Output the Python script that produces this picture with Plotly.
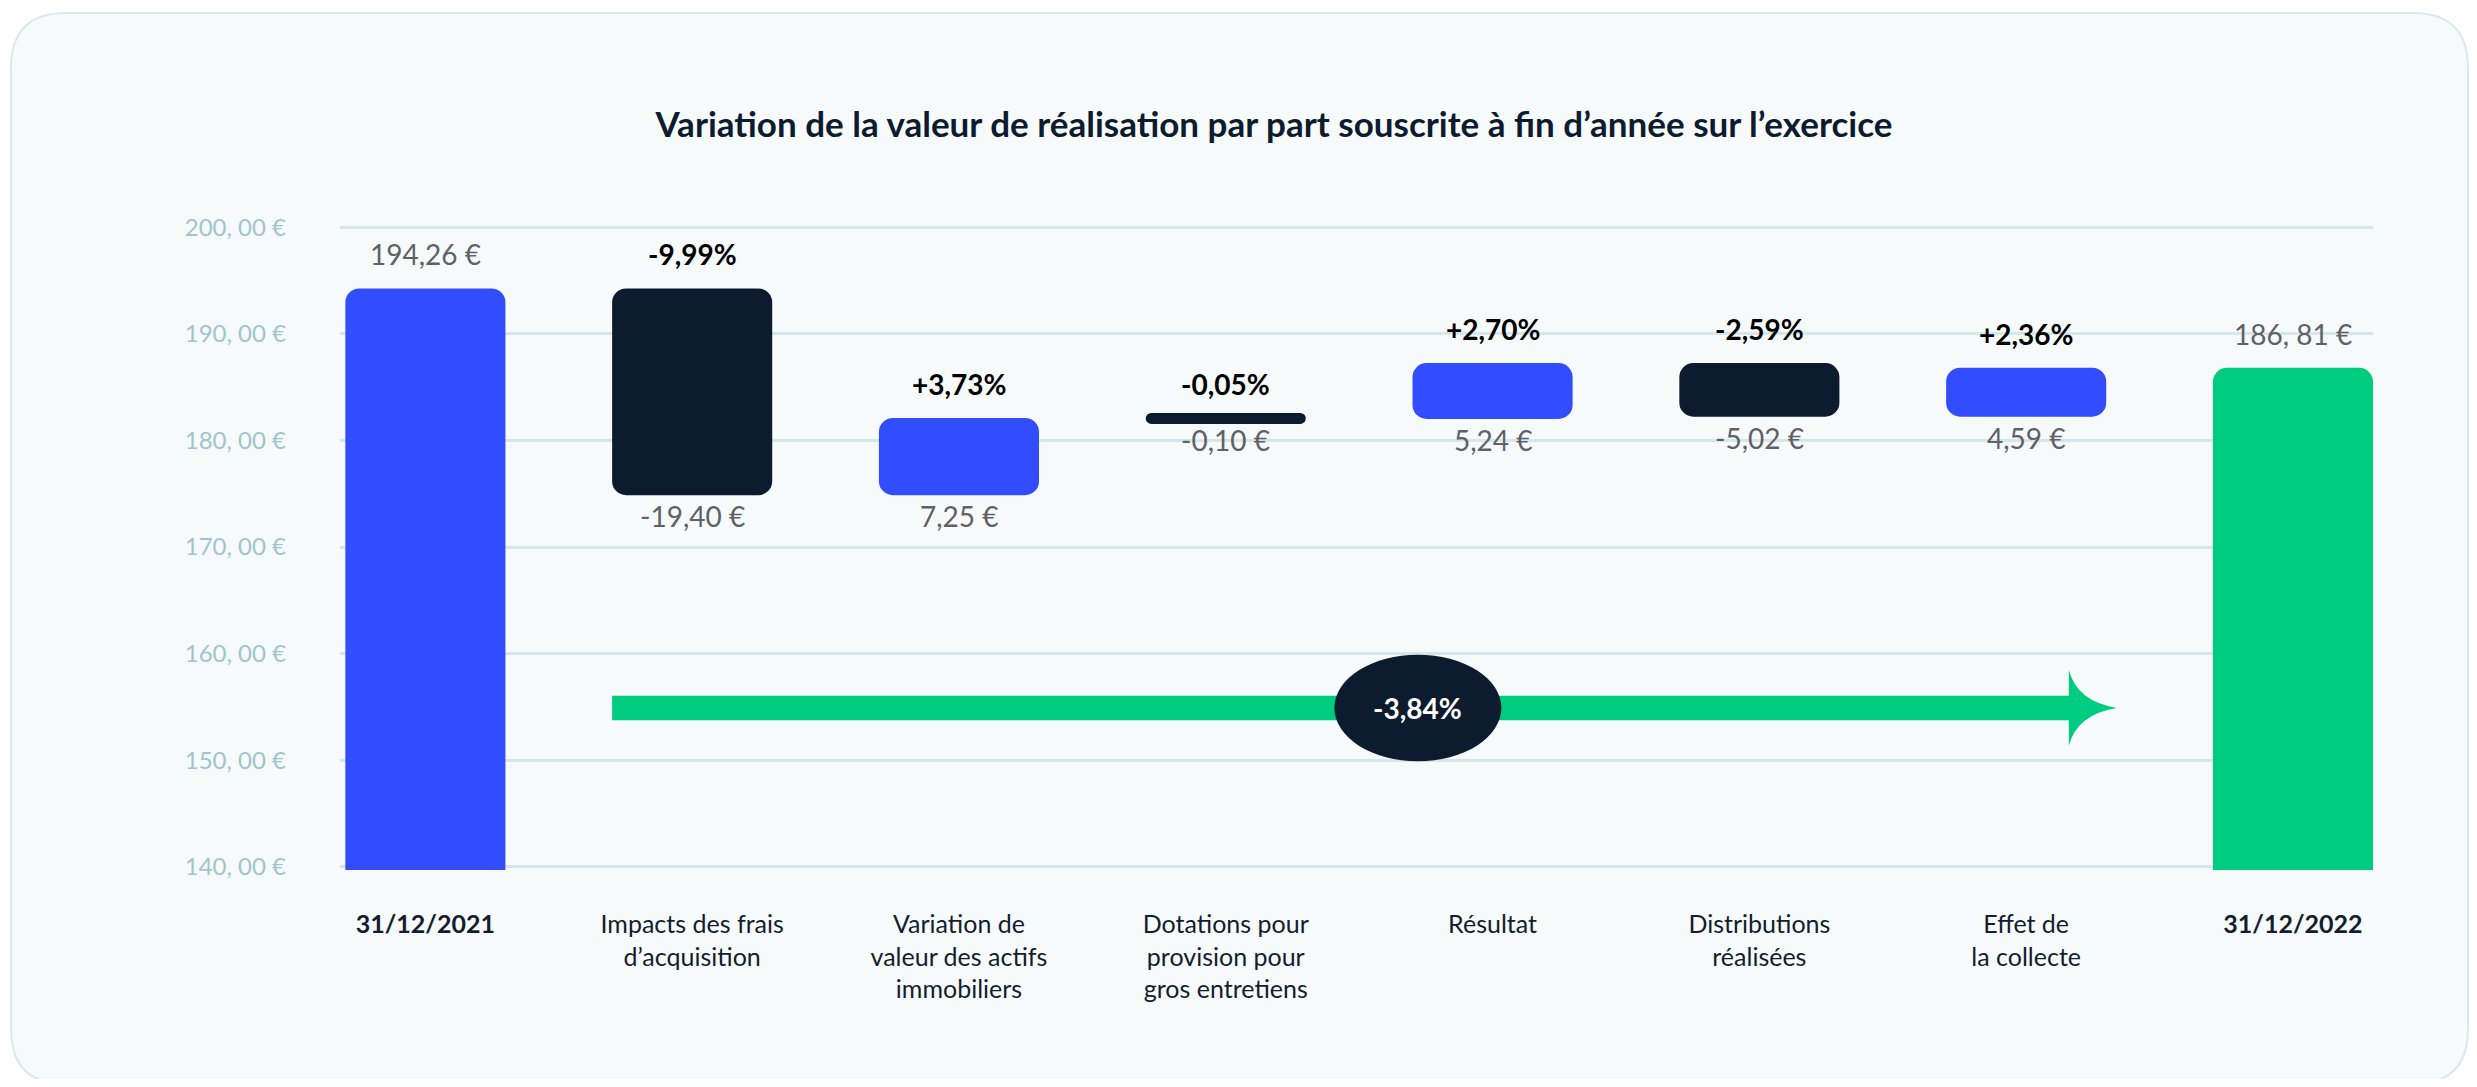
import plotly.graph_objects as go

# ---- data ----
CATEGORIES = [
    "<b>31/12/2021</b>",
    "Impacts des frais<br>d’acquisition",
    "Variation de<br>valeur des actifs<br>immobiliers",
    "Dotations pour<br>provision pour<br>gros entretiens",
    "Résultat",
    "Distributions<br>réalisées",
    "Effet de<br>la collecte",
    "<b>31/12/2022</b>",
]
START_VALUE = 194.26
END_VALUE = 186.81
DELTAS = [-19.40, 7.25, -0.10, 5.24, -5.02, 4.59]
VALUE_LABELS = ["194,26 €", "-19,40 €", "7,25 €", "-0,10 €", "5,24 €", "-5,02 €", "4,59 €", "186, 81 €"]
PCT_LABELS = ["", "-9,99%", "+3,73%", "-0,05%", "+2,70%", "-2,59%", "+2,36%", ""]
TOTAL_PCT_LABEL = "-3,84%"
Y_TICKS = [140, 150, 160, 170, 180, 190, 200]
Y_TICK_LABELS = ["140, 00 €", "150, 00 €", "160, 00 €", "170, 00 €", "180, 00 €", "190, 00 €", "200, 00 €"]

# ---- style ----
BLUE = "#324CFF"
NAVY = "#0D1B2E"
GREEN = "#00CC80"
GRID = "#D6E7EB"
TICK_GREY = "#A0C5CB"
LABEL_GREY = "#5E6166"
CARD_BG = "#F6FAFB"
CARD_BORDER = "#D9EAEE"
FONT = "Lato"

W, H = 2461, 1071
ML, MR, MT, MB = 332, 96, 216, 209
PW, PH = W - ML - MR, H - MT - MB
BAR_W = 0.6
Y_RANGE = [139.7, 200.3]
X_RANGE = [-0.32, 7.30]

x = list(range(len(CATEGORIES)))

# waterfall levels
levels = [START_VALUE]
for d in DELTAS:
    levels.append(levels[-1] + d)

lo, hi, colors = [0], [START_VALUE], [BLUE]
for i, d in enumerate(DELTAS):
    a, b = levels[i], levels[i + 1]
    lo.append(min(a, b))
    hi.append(max(a, b))
    colors.append(BLUE if d > 0 else NAVY)
lo.append(0)
hi.append(END_VALUE)
colors.append(GREEN)

# the tiny -0,10 € bar gets a stroke so it stays visible
line_w = [10 if (hi[i] - lo[i]) < 0.5 else 0 for i in x]
widths = [BAR_W - (lw / (PW / (X_RANGE[1] - X_RANGE[0]))) for lw in line_w]

fig = go.Figure()
fig.add_bar(
    x=x,
    y=[hi[i] - lo[i] for i in x],
    base=lo,
    width=widths,
    marker=dict(color=colors, cornerradius=14, line=dict(color=colors, width=line_w)),
    hoverinfo="skip",
    showlegend=False,
)


def paper_x(px):
    return (px - ML) / PW


def paper_y(py):
    return 1 - (py - MT) / PH


# card background
L, T, R, B, RAD = 3, 5, 2460, 1076, 55
card = (
    f"M {paper_x(L + RAD)},{paper_y(T)} L {paper_x(R - RAD)},{paper_y(T)} "
    f"Q {paper_x(R)},{paper_y(T)} {paper_x(R)},{paper_y(T + RAD)} "
    f"L {paper_x(R)},{paper_y(B - RAD)} Q {paper_x(R)},{paper_y(B)} {paper_x(R - RAD)},{paper_y(B)} "
    f"L {paper_x(L + RAD)},{paper_y(B)} Q {paper_x(L)},{paper_y(B)} {paper_x(L)},{paper_y(B - RAD)} "
    f"L {paper_x(L)},{paper_y(T + RAD)} Q {paper_x(L)},{paper_y(T)} {paper_x(L + RAD)},{paper_y(T)} Z"
)
fig.add_shape(type="path", path=card, xref="paper", yref="paper", layer="below",
              fillcolor=CARD_BG, line=dict(color=CARD_BORDER, width=2))

# total variation arrow
ay = 154.9
x0, x_stem, x_tip = 1 - BAR_W / 2, 6.16, 6.34
fig.add_shape(type="rect", x0=x0, x1=x_stem + 0.01, y0=ay - 1.15, y1=ay + 1.15,
              fillcolor=GREEN, line_width=0)
head = (
    f"M {x_stem},{ay + 3.55} Q {x_stem + 0.03},{ay + 0.6} {x_tip},{ay} "
    f"Q {x_stem + 0.03},{ay - 0.6} {x_stem},{ay - 3.55} Z"
)
fig.add_shape(type="path", path=head, fillcolor=GREEN, line_width=0)
fig.add_shape(type="circle", x0=3.72 - 0.313, x1=3.72 + 0.313, y0=ay - 5.0, y1=ay + 5.0,
              fillcolor=NAVY, line_width=0)
fig.add_annotation(x=3.72, y=ay, text=f"<b>{TOTAL_PCT_LABEL}</b>", showarrow=False,
                   font=dict(family=FONT, size=28, color="white"))

# value labels
for i in x:
    if i in (0, len(x) - 1):
        fig.add_annotation(x=i, y=hi[i], yshift=34, text=VALUE_LABELS[i], showarrow=False,
                           font=dict(family=FONT, size=28, color=LABEL_GREY))
    else:
        fig.add_annotation(x=i, y=hi[i], yshift=34, text=f"<b>{PCT_LABELS[i]}</b>", showarrow=False,
                           font=dict(family=FONT, size=28, color="black"))
        fig.add_annotation(x=i, y=lo[i], yshift=-21, text=VALUE_LABELS[i], showarrow=False,
                           font=dict(family=FONT, size=28, color=LABEL_GREY))

fig.update_layout(
    width=W,
    height=H,
    margin=dict(l=ML, r=MR, t=MT, b=MB, pad=0),
    paper_bgcolor="white",
    plot_bgcolor="rgba(0,0,0,0)",
    barmode="overlay",
    title=dict(
        text="Variation de la valeur de réalisation par part souscrite à fin d’année sur l’exercice",
        x=1266 / W, xanchor="center", y=1 - 117 / H, yanchor="middle",
        font=dict(family=FONT, size=35, color=NAVY, weight=700),
    ),
    font=dict(family=FONT),
)
fig.update_xaxes(
    range=X_RANGE, tickvals=x, ticktext=CATEGORIES, showgrid=False, zeroline=False,
    showline=False, ticks="", ticklabelstandoff=37,
    tickfont=dict(family=FONT, size=25, color="#131D2E"),
)
fig.update_yaxes(
    range=Y_RANGE, tickvals=Y_TICKS, ticktext=Y_TICK_LABELS, showgrid=True, gridcolor=GRID,
    gridwidth=3, zeroline=False, showline=False, ticks="", ticklabelstandoff=53,
    tickfont=dict(family=FONT, size=24, color=TICK_GREY),
)

fig.write_html("out.html")
